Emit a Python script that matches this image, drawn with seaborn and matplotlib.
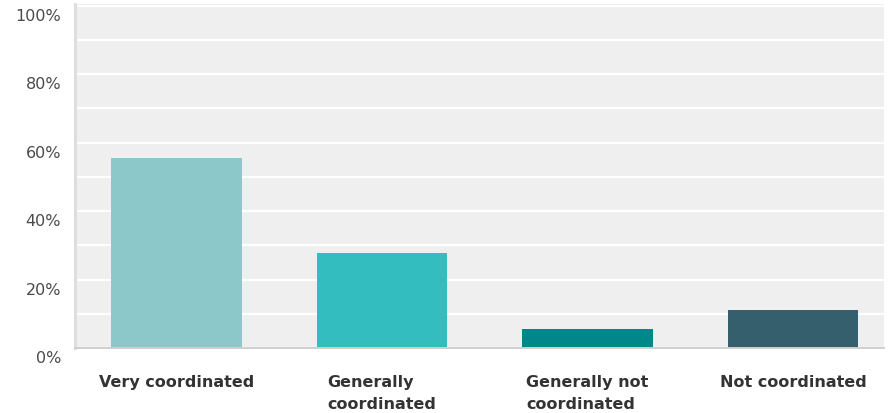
import matplotlib
matplotlib.use("Agg")
import matplotlib.pyplot as plt
import matplotlib.transforms as mtransforms
from matplotlib.ticker import MultipleLocator, FuncFormatter
import pandas as pd
import seaborn as sns

categories = ["Very coordinated", "Generally\ncoordinated",
              "Generally not\ncoordinated", "Not coordinated"]
shares = [55.6, 27.8, 5.6, 11.1]
colors = ["#8CC8C9", "#33BDBE", "#00878A", "#355F6D"]

df = pd.DataFrame({"category": categories, "share": shares})

sns.set_theme(style="white")
plt.rcParams["font.family"] = ["DejaVu Sans"]

fig = plt.figure(figsize=(8.92, 4.14), dpi=100)
ax = fig.add_axes([75 / 892, 1 - 349 / 414, (884 - 75) / 892, (349 - 5) / 414])

sns.barplot(data=df, x="category", y="share", hue="category",
            palette=colors, legend=False, width=0.637, saturation=1,
            edgecolor="none", ax=ax)

ax.set_facecolor("#EFEFEF")
ax.set_xlim(-0.494, 3.443)
ax.set_ylim(0, 100.5)
ax.yaxis.set_major_locator(MultipleLocator(20))
ax.yaxis.set_minor_locator(MultipleLocator(10))
ax.yaxis.set_major_formatter(FuncFormatter(lambda v, p: f"{v:.0f}%"))
ax.grid(axis="y", which="both", color="white", linewidth=1.6)
ax.set_axisbelow(True)

for side in ("top", "right"):
    ax.spines[side].set_visible(False)
ax.spines["left"].set_color("#DEDEDE")
ax.spines["left"].set_linewidth(2.2)
ax.spines["bottom"].set_color("#CFCFCF")
ax.spines["bottom"].set_linewidth(1.4)

ax.set_xlabel("")
ax.set_ylabel("")
ax.tick_params(axis="y", which="both", length=0, pad=10,
               labelsize=11.5, labelcolor="#4A4A4A")
ax.tick_params(axis="x", length=0, pad=19, labelsize=11.5,
               labelcolor="#333333")

offset = mtransforms.ScaledTranslation(0, -8 / 100, fig.dpi_scale_trans)
for lab in ax.get_yticklabels():
    lab.set_transform(lab.get_transform() + offset)

for lab in ax.get_xticklabels():
    lab.set_fontweight("bold")
    lab.set_multialignment("left")
    lab.set_verticalalignment("top")
    lab.set_linespacing(1.55)

fig.savefig("out.png", dpi=100, facecolor="white")
